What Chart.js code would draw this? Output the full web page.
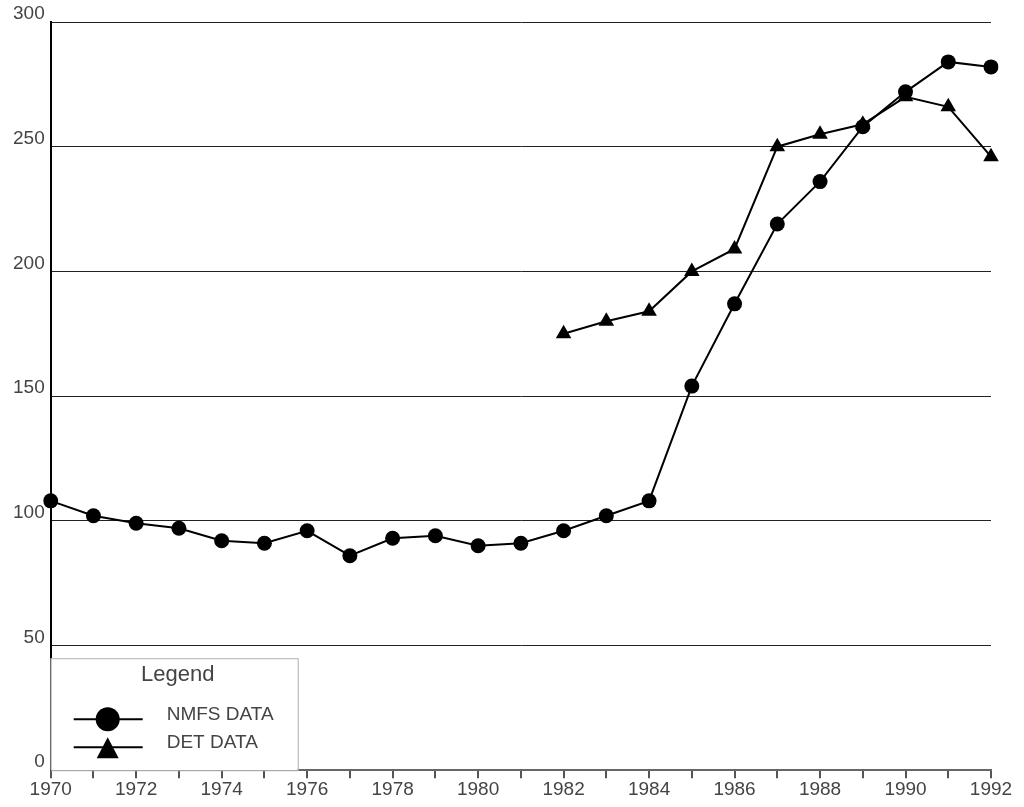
<!DOCTYPE html>
<html>
<head>
<meta charset="utf-8">
<script src="https://cdn.jsdelivr.net/npm/chart.js@4/dist/chart.umd.min.js"></script>
<style>
  html, body { margin: 0; padding: 0; background: #fff; }
  #wrap { width: 1024px; height: 807px; position: relative; }
</style>
</head>
<body>
<div id="wrap"><canvas id="chart"></canvas></div>
<script>
// Data
const years = [1970, 1971, 1972, 1973, 1974, 1975, 1976, 1977, 1978, 1979, 1980, 1981,
               1982, 1983, 1984, 1985, 1986, 1987, 1988, 1989, 1990, 1991, 1992];
const nmfsData = [108, 102, 99, 97, 92, 91, 96, 86, 93, 94, 90, 91,
                  96, 102, 108, 154, 187, 219, 236, 258, 272, 284, 282];
const detData = [null, null, null, null, null, null, null, null, null, null, null, null,
                 175, 180, 184, 200, 209, 250, 255, 259, 270, 266, 246];
const yTicks = [0, 50, 100, 150, 200, 250, 300];
const legendItems = [
    { label: 'NMFS DATA', style: 'circle' },
    { label: 'DET DATA', style: 'triangle' }
];

const FONT = '"Liberation Sans", Arial, sans-serif';
const TEXT_COLOR = '#444';

// Legend box drawn inside the plot, bottom left corner
const legendBox = {
    id: 'legendBox',
    afterDraw(chart) {
        const ctx = chart.ctx;
        const area = chart.chartArea;
        const x0 = area.left, w = 247, h = 112;
        const y0 = area.bottom - h;
        ctx.save();
        ctx.fillStyle = '#fff';
        ctx.fillRect(x0, y0, w, h);
        ctx.strokeStyle = '#b0b0b0';
        ctx.lineWidth = 1;
        ctx.strokeRect(x0 + 0.5, y0 + 0.5, w, h);

        ctx.fillStyle = TEXT_COLOR;
        ctx.font = '22px ' + FONT;
        ctx.textAlign = 'center';
        ctx.textBaseline = 'middle';
        ctx.fillText('Legend', x0 + 127, y0 + 17);

        legendItems.forEach((item, i) => {
            const cy = y0 + 61 + i * 28;
            ctx.strokeStyle = '#000';
            ctx.lineWidth = 2;
            ctx.beginPath();
            ctx.moveTo(x0 + 23, cy);
            ctx.lineTo(x0 + 92, cy);
            ctx.stroke();
            ctx.fillStyle = '#000';
            ctx.beginPath();
            if (item.style === 'circle') {
                ctx.arc(x0 + 57, cy, 12, 0, Math.PI * 2);
            } else {
                ctx.moveTo(x0 + 57, cy - 10);
                ctx.lineTo(x0 + 68, cy + 11);
                ctx.lineTo(x0 + 46, cy + 11);
                ctx.closePath();
            }
            ctx.fill();
            ctx.fillStyle = TEXT_COLOR;
            ctx.font = '19px ' + FONT;
            ctx.textAlign = 'left';
            ctx.fillText(item.label, x0 + 116, cy - 4);
        });
        ctx.restore();
    }
};

new Chart(document.getElementById('chart'), {
    type: 'line',
    data: {
        labels: years,
        datasets: [{
            label: 'NMFS DATA',
            data: nmfsData,
            borderColor: '#000',
            backgroundColor: '#000',
            borderWidth: 2,
            pointStyle: 'circle',
            pointRadius: 7.5,
            pointBorderWidth: 0,
            tension: 0
        }, {
            label: 'DET DATA',
            data: detData,
            borderColor: '#000',
            backgroundColor: '#000',
            borderWidth: 2,
            pointStyle: 'triangle',
            pointRadius: 9,
            pointBorderWidth: 0,
            tension: 0
        }]
    },
    options: {
        responsive: true,
        maintainAspectRatio: false,
        animation: false,
        layout: { padding: { top: 22, right: 33, left: 7, bottom: 6 } },
        plugins: {
            legend: { display: false },
            tooltip: { enabled: false }
        },
        scales: {
            x: {
                offset: false,
                grid: {
                    display: true,
                    drawOnChartArea: false,
                    drawTicks: true,
                    tickLength: 8,
                    color: '#555',
                    lineWidth: 2
                },
                border: { display: true, color: '#666', width: 2 },
                ticks: {
                    autoSkip: false,
                    maxRotation: 0,
                    color: TEXT_COLOR,
                    font: { family: FONT, size: 19 },
                    padding: 0,
                    callback: function(value) {
                        const yr = this.getLabelForValue(value);
                        return yr % 2 === 0 ? String(yr) : '';
                    }
                }
            },
            y: {
                min: 0,
                max: 300,
                afterBuildTicks: axis => {
                    axis.ticks = yTicks.map(v => ({ value: v }));
                },
                grid: {
                    color: '#222',
                    lineWidth: 1,
                    drawTicks: false
                },
                border: { display: true, color: '#000', width: 2 },
                ticks: {
                    color: TEXT_COLOR,
                    font: { family: FONT, size: 19 },
                    padding: 6,
                    labelOffset: -8
                }
            }
        }
    },
    plugins: [legendBox]
});
</script>
</body>
</html>
